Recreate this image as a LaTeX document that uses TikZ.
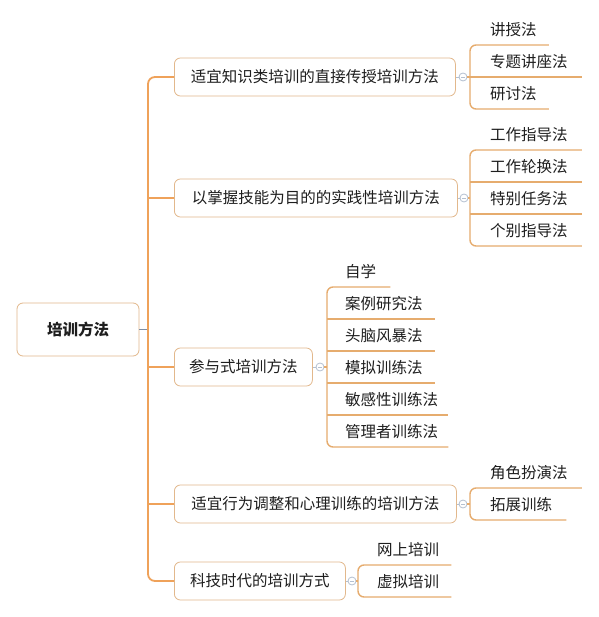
\documentclass[tikz,border=0pt]{standalone}
\usepackage{fontspec}
\setmainfont{Noto Sans CJK SC}
\definecolor{trunk}{HTML}{EFA25A}
\definecolor{boxline}{HTML}{E2B88C}
\definecolor{leafline}{HTML}{E6AC6E}
\definecolor{rootline}{HTML}{7F8FA6}
\definecolor{circ}{HTML}{B4C0D0}
\definecolor{txt}{HTML}{1E1E1E}
\tikzset{
  boxnode/.style={draw=boxline, line width=0.8pt, rounded corners=6pt, fill=white,
    minimum height=38pt, font=\fontsize{15.5}{16}\selectfont, text=txt, inner sep=0pt},
  leafnode/.style={font=\fontsize{15.5}{16}\selectfont, text=txt, anchor=west, inner sep=0pt},
  trunkline/.style={draw=trunk, line width=1.8pt, rounded corners=7pt},
  leafline/.style={draw=leafline, line width=1.4pt, rounded corners=6pt},
  collapse/.style={circle, draw=circ, fill=white, line width=0.8pt, minimum size=8pt, inner sep=0pt},
}
\begin{document}
\begin{tikzpicture}[x=1pt,y=-1pt]
\useasboundingbox[fill=white] (0,0) rectangle (598,617);
% root
\node[boxnode, minimum width=122pt, minimum height=53pt, font=\fontsize{15.5}{16}\selectfont\bfseries] (root) at (78,329.5) {培训方法};
% branch boxes
\node[boxnode, anchor=west, minimum width=281pt] (b1) at (174,77) {适宜知识类培训的直接传授培训方法};
\node[boxnode, anchor=west, minimum width=283pt] (b2) at (174,198) {以掌握技能为目的的实践性培训方法};
\node[boxnode, anchor=west, minimum width=138pt] (b3) at (174,367) {参与式培训方法};
\node[boxnode, anchor=west, minimum width=282pt] (b4) at (174,504) {适宜行为调整和心理训练的培训方法};
\node[boxnode, anchor=west, minimum width=171pt] (b5) at (174,581) {科技时代的培训方式};
% trunk
\coordinate (t1) at (148,77);
\coordinate (t5) at (148,581);
\coordinate (tr) at (148,329.5);
\draw[draw=rootline, line width=1.4pt] (root.east) -- (tr);
\draw[trunkline] (b1.west) -- (t1) -- (t5) -- (b5.west);
\draw[trunkline] (b2.west) -- (b2.west -| t1);
\draw[trunkline] (b3.west) -- (b3.west -| t1);
\draw[trunkline] (b4.west) -- (b4.west -| t1);
% collapse circles
\node[collapse] (c1) at (463,77) {};
\node[collapse] (c2) at (464,198) {};
\node[collapse] (c3) at (320,367) {};
\node[collapse] (c4) at (463,504) {};
\node[collapse] (c5) at (352,581) {};
\foreach \c in {c1,c2,c3,c4,c5}{
  \draw[circ, line width=0.7pt] ([xshift=-2pt]\c.center) -- ([xshift=2pt]\c.center);
}
\draw[circ, line width=0.8pt] (b1.east) -- (c1.west);
\draw[circ, line width=0.8pt] (b2.east) -- (c2.west);
\draw[circ, line width=0.8pt] (b3.east) -- (c3.west);
\draw[circ, line width=0.8pt] (b4.east) -- (c4.west);
\draw[circ, line width=0.8pt] (b5.east) -- (c5.west);

% ---------- branch 1 leaves
\node[leafnode] (l11) at (490,30) {讲授法};
\node[leafnode] (l12) at (490,62) {专题讲座法};
\node[leafnode] (l13) at (490,94) {研讨法};
\coordinate (k1t) at (470,45);
\coordinate (k1b) at (470,109);
\draw[leafline] ([xshift=12pt]l11.east |- k1t) -- (k1t) -- (k1b) -- ([xshift=12pt]l13.east |- k1b);
\draw[leafline] (c1.east) -- (c1 -| k1t);
\draw[leafline] (c1 -| k1t) -- ([xshift=14pt]l12.east |- c1);

% ---------- branch 2 leaves
\node[leafnode] (l21) at (490,135) {工作指导法};
\node[leafnode] (l22) at (490,167) {工作轮换法};
\node[leafnode] (l23) at (490,199) {特别任务法};
\node[leafnode] (l24) at (490,231) {个别指导法};
\coordinate (k2t) at (470,150);
\coordinate (k2b) at (470,246);
\draw[leafline] ([xshift=14pt]l21.east |- k2t) -- (k2t) -- (k2b) -- ([xshift=14pt]l24.east |- k2b);
\draw[leafline] (c2.east) -- (c2 -| k2t);
\coordinate (k22) at (470,182);
\coordinate (k23) at (470,214);
\draw[leafline] (k22) -- ([xshift=14pt]l22.east |- k22);
\draw[leafline] (k23) -- ([xshift=14pt]l23.east |- k23);

% ---------- branch 3 leaves
\node[leafnode] (l31) at (345,272) {自学};
\node[leafnode] (l32) at (345,304) {案例研究法};
\node[leafnode] (l33) at (345,336) {头脑风暴法};
\node[leafnode] (l34) at (345,368) {模拟训练法};
\node[leafnode] (l35) at (345,400) {敏感性训练法};
\node[leafnode] (l36) at (345,432) {管理者训练法};
\coordinate (k3t) at (327,287);
\coordinate (k3b) at (327,447);
\draw[leafline] ([xshift=14pt]l31.east |- k3t) -- (k3t) -- (k3b) -- ([xshift=10pt]l36.east |- k3b);
\draw[leafline] (c3.east) -- (c3 -| k3t);
\coordinate (k32) at (327,319);
\coordinate (k33) at (327,351);
\coordinate (k34) at (327,383);
\coordinate (k35) at (327,415);
\draw[leafline] (k32) -- ([xshift=12pt]l32.east |- k32);
\draw[leafline] (k33) -- ([xshift=12pt]l33.east |- k33);
\draw[leafline] (k34) -- ([xshift=12pt]l34.east |- k34);
\draw[leafline] (k35) -- ([xshift=10pt]l35.east |- k35);

% ---------- branch 4 leaves
\node[leafnode] (l41) at (490,473) {角色扮演法};
\node[leafnode] (l42) at (490,505) {拓展训练};
\coordinate (k4t) at (470,488);
\coordinate (k4b) at (470,520);
\draw[leafline] ([xshift=14pt]l41.east |- k4t) -- (k4t) -- (k4b) -- ([xshift=14pt]l42.east |- k4b);
\draw[leafline] (c4.east) -- (c4 -| k4t);

% ---------- branch 5 leaves
\node[leafnode] (l51) at (377,550) {网上培训};
\node[leafnode] (l52) at (377,582) {虚拟培训};
\coordinate (k5t) at (358,565);
\coordinate (k5b) at (358,597);
\draw[leafline] ([xshift=12pt]l51.east |- k5t) -- (k5t) -- (k5b) -- ([xshift=12pt]l52.east |- k5b);
\draw[leafline] (c5.east) -- (c5 -| k5t);
\end{tikzpicture}
\end{document}
